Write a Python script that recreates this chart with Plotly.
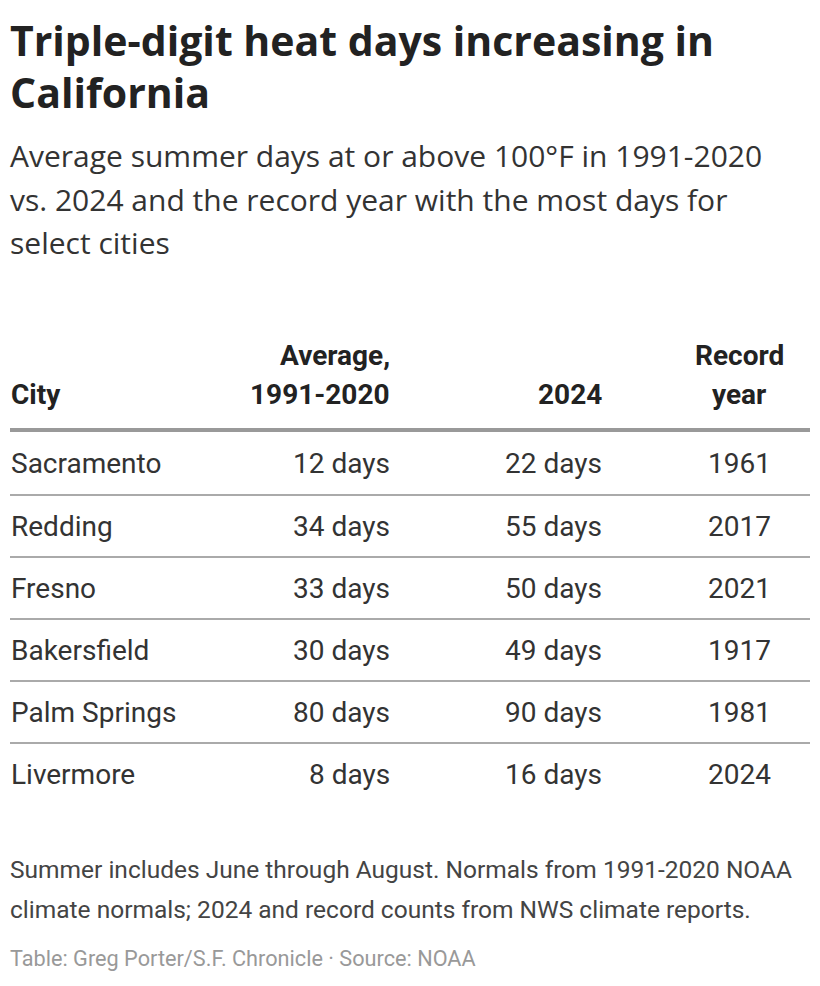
import plotly.graph_objects as go

# ---- data ----
cities = ["Sacramento", "Redding", "Fresno", "Bakersfield", "Palm Springs", "Livermore"]
avg_1991_2020 = [12, 34, 33, 30, 80, 8]
days_2024 = [22, 55, 50, 49, 90, 16]
record_year = [1961, 2017, 2021, 1917, 1981, 2024]
col_headers = ["City", "Average,<br>1991-2020", "2024", "Record<br>year"]

title_lines = ["Triple-digit heat days increasing in", "California"]
subtitle_lines = [
    "Average summer days at or above 100°F in 1991-2020",
    "vs. 2024 and the record year with the most days for",
    "select cities",
]
note_lines = [
    "Summer includes June through August. Normals from 1991-2020 NOAA",
    "climate normals; 2024 and record counts from NWS climate reports.",
]
source_text = "Table: Greg Porter/S.F. Chronicle · Source: NOAA"

# ---- layout constants ----
W, H = 820, 986
OFF = 8                                # page body margin
FONT = "Roboto"
col_x = [10, 391, 603, 739]            # anchor x (pixels) per column
col_anchor = ["left", "right", "right", "center"]
row_top, row_h = 433, 62               # table body top and row height (px)
n = len(cities)
y_top_ext = 0.1                        # extra axis room above first row for header rule

def py(px):
    return 1 - (px - OFF) / (H - OFF)

fig = go.Figure()

# invisible trace to instantiate axes
fig.add_trace(go.Scatter(x=[OFF], y=[0], mode="markers", marker=dict(opacity=0),
                         hoverinfo="skip", showlegend=False))

annotations = []
def txt(text, xpx, ypx, size, color, bold=False, anchor="left", family=FONT):
    annotations.append(dict(
        text=f"<b>{text}</b>" if bold else text, x=xpx, y=py(ypx), xref="x", yref="paper",
        xanchor=anchor, yanchor="middle", showarrow=False, borderpad=0,
        font=dict(family=family, size=size, color=color)))

for i, line in enumerate(title_lines):
    txt(line, 9, 40 + i * 52, 41, "#222222", bold=True, family="Open Sans")
for i, line in enumerate(subtitle_lines):
    txt(line, 9, 155 + i * 44, 30, "#333333", family="Open Sans")

# header
for h, xpx, anc in zip(col_headers, col_x, col_anchor):
    parts = h.split("<br>")
    for j, p in enumerate(reversed(parts)):
        txt(p, xpx, 395 - j * 40, 28, "#222222", bold=True, anchor=anc)

# body cells in data coordinates (row index on y axis)
columns = [
    cities,
    [f"{v} days" for v in avg_1991_2020],
    [f"{v} days" for v in days_2024],
    [str(v) for v in record_year],
]
for c, (vals, xpx, anc) in enumerate(zip(columns, col_x, col_anchor)):
    for r, v in enumerate(vals):
        annotations.append(dict(
            text=v, x=xpx, y=r, xref="x", yref="y", xanchor=anc, yanchor="middle",
            showarrow=False, borderpad=0, font=dict(family=FONT, size=28, color="#333333")))

for i, line in enumerate(note_lines):
    txt(line, 9, 869 + i * 40, 24.5, "#444444")
txt(source_text, 9, 958, 21.7, "#999999")

shapes = [dict(type="line", xref="x", yref="y", x0=10, x1=810, y0=-0.55, y1=-0.55,
               line=dict(color="#999999", width=4))]
for r in range(n - 1):
    shapes.append(dict(type="line", xref="x", yref="y", x0=10, x1=810, y0=r + 0.5, y1=r + 0.5,
                       line=dict(color="#aaaaaa", width=2)))

fig.update_layout(
    width=W - OFF, height=H - OFF, margin=dict(l=0, r=0, t=0, b=0, pad=0),
    paper_bgcolor="white", plot_bgcolor="white",
    xaxis=dict(range=[OFF, W], visible=False, fixedrange=True),
    yaxis=dict(range=[n - 0.5, -0.5 - y_top_ext], visible=False, fixedrange=True,
               domain=[py(row_top + n * row_h), py(row_top - y_top_ext * row_h)]),
    annotations=annotations, shapes=shapes, showlegend=False,
)

fig.write_html("out.html")
